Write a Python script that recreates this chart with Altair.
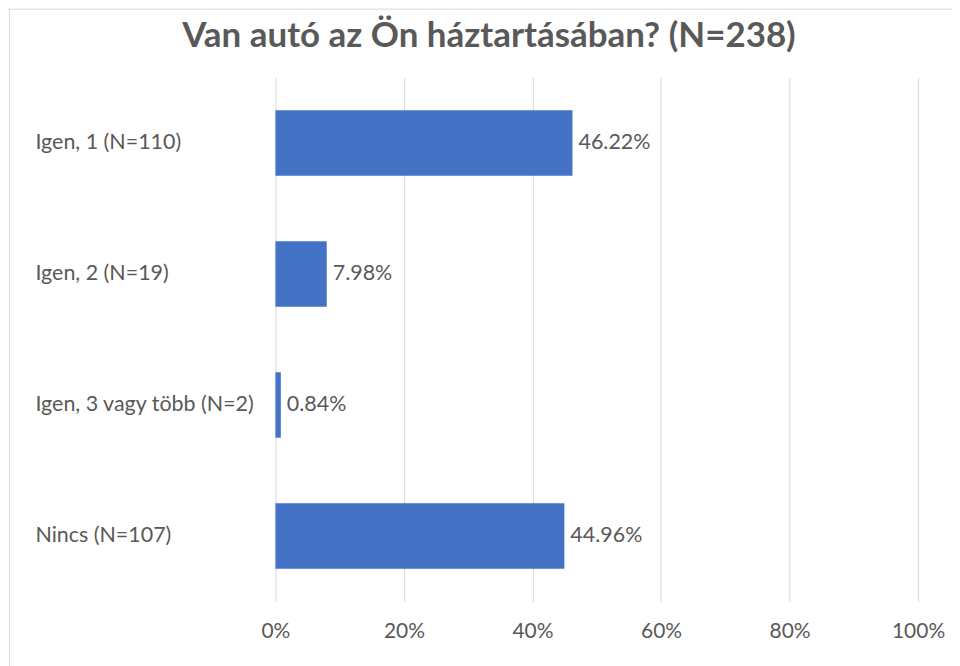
import altair as alt
import pandas as pd

categories = ["Igen, 1 (N=110)", "Igen, 2 (N=19)", "Igen, 3 vagy több (N=2)", "Nincs (N=107)"]
values = [46.22, 7.98, 0.84, 44.96]
labels = ["46.22%", "7.98%", "0.84%", "44.96%"]
title_text = "Van autó az Ön háztartásában? (N=238)"

df = pd.DataFrame({"cat": categories, "val": [v / 100 for v in values], "label": labels})

FONT = "Lato"
GRAY = "#595959"
one = pd.DataFrame({"t": [title_text]})

base = alt.Chart(df)

top_line = alt.Chart(one).mark_rule(color="#d9d9d9", strokeWidth=1).encode(
    x=alt.value(-268), x2=alt.value(700), y=alt.value(-68.5)
)
left_line = alt.Chart(one).mark_rule(color="#d9d9d9", strokeWidth=1).encode(
    x=alt.value(-266.5), y=alt.value(-69), y2=alt.value(620)
)

title = alt.Chart(one).mark_text(
    fontSize=35, font=FONT, fontWeight="bold", color=GRAY, align="center", baseline="alphabetic"
).encode(x=alt.value(214), y=alt.value(-31), text="t:N")

bars = base.mark_bar(color="#4472C4").encode(
    x=alt.X("val:Q", scale=alt.Scale(domain=[0, 1]),
            axis=alt.Axis(format="%", values=[0, 0.2, 0.4, 0.6, 0.8, 1.0], title=None,
                          grid=True, gridColor="#d9d9d9", domain=False, ticks=False,
                          labelFlush=False, labelPadding=19, labelFontSize=21,
                          labelColor=GRAY, labelFont=FONT)),
    y=alt.Y("cat:N", sort=categories, scale=alt.Scale(paddingInner=0.5, paddingOuter=0.25),
            axis=alt.Axis(title=None, domain=False, ticks=False, labelAlign="left",
                          labelPadding=241, labelLimit=300, labelFontSize=21.5,
                          labelColor=GRAY, labelFont=FONT)),
)

text = base.mark_text(align="left", dx=6, fontSize=21.5, color=GRAY, font=FONT).encode(
    x="val:Q", y=alt.Y("cat:N", sort=categories), text="label:N"
)

chart = alt.layer(top_line, left_line, title, bars, text).properties(
    width=644, height=525,
    padding={"left": 268, "top": 69, "right": 34, "bottom": 64},
    autosize=alt.AutoSizeParams(type="none"),
).configure_view(stroke=None)

chart.save("out.html", embed_options={"renderer": "svg", "actions": False})
